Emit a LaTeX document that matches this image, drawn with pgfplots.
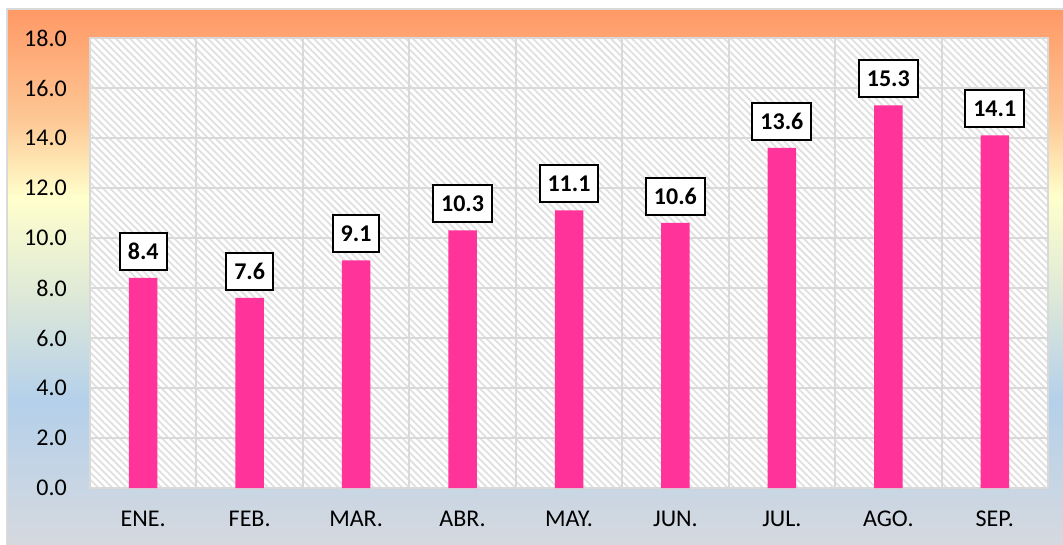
\documentclass[border=0pt]{standalone}
\usepackage{fontspec}
\setmainfont{Carlito}
\usepackage{pgfplots}
\pgfplotsset{compat=1.18}
\usetikzlibrary{patterns.meta}
\definecolor{barpink}{HTML}{FF3399}
\definecolor{gOrange}{HTML}{FF9966}
\definecolor{gPeach}{HTML}{FDC895}
\definecolor{gYellow}{HTML}{FFFFCC}
\definecolor{gGreen}{HTML}{DCE7D8}
\definecolor{gBlue}{HTML}{B4D0EA}
\definecolor{gGrey}{HTML}{D6D9DF}
\definecolor{gridgrey}{HTML}{D9D9D9}
\begin{document}
\fontsize{24}{29}\selectfont
\begin{tikzpicture}
\path[use as bounding box, fill=white] (0,0) rectangle (1063pt,-545pt);
\shade[top color=gOrange, bottom color=gPeach] (8pt,-10pt) rectangle (1063pt,-120.5pt);
\shade[top color=gPeach, bottom color=gYellow] (8pt,-120pt) rectangle (1063pt,-197.5pt);
\shade[top color=gYellow, bottom color=gGreen] (8pt,-197pt) rectangle (1063pt,-300.5pt);
\shade[top color=gGreen, bottom color=gBlue] (8pt,-300pt) rectangle (1063pt,-400.5pt);
\shade[top color=gBlue, bottom color=gGrey] (8pt,-400pt) rectangle (1063pt,-546pt);
\draw[gridgrey, line width=2pt] (7pt,-547pt) |- (1064pt,-9pt);
\begin{axis}[
  at={(90pt,-488pt)}, anchor=south west,
  width=958pt, height=450pt, scale only axis,
  ybar, bar width=28.5pt,
  xmin=-0.5, xmax=8.5, ymin=0, ymax=18,
  xtick={0,...,8},
  xticklabels={ENE.,FEB.,MAR.,ABR.,MAY.,JUN.,JUL.,AGO.,SEP.},
  minor xtick={0.5,1.5,...,7.5},
  xminorgrids, ymajorgrids,
  ytick={0,2,...,18},
  major grid style={gridgrey, line width=2pt},
  minor grid style={gridgrey, line width=2pt},
  axis line style={gridgrey, line width=2pt},
  major tick length=0pt, minor tick length=0pt,
  tick style={draw=none},
  /pgf/number format/assume math mode=true,
  yticklabel style={/pgf/number format/fixed, /pgf/number format/fixed zerofill, /pgf/number format/precision=1, anchor=east, xshift=-15pt},
  xticklabel style={yshift=-15pt},
  ticklabel style={font=\fontsize{24}{29}\selectfont, text=black},
  axis background/.style={fill=white, postaction={pattern={Lines[angle=-45,distance=5pt,line width=1.8pt]}, pattern color=black!12}},
  nodes near coords={\pgfmathprintnumber[fixed,fixed zerofill,precision=1]{\pgfplotspointmeta}},
  nodes near coords style={font=\fontsize{24}{29}\selectfont\bfseries, text=black, draw=black, line width=2pt, fill=white, inner xsep=8pt, inner ysep=0pt, minimum height=37pt, anchor=south, yshift=8pt, outer sep=0pt},
]
\addplot[fill=barpink, draw=none] coordinates {(0,8.4) (1,7.6) (2,9.1) (3,10.3) (4,11.1) (5,10.6) (6,13.6) (7,15.3) (8,14.1)};
\end{axis}
\end{tikzpicture}
\end{document}
